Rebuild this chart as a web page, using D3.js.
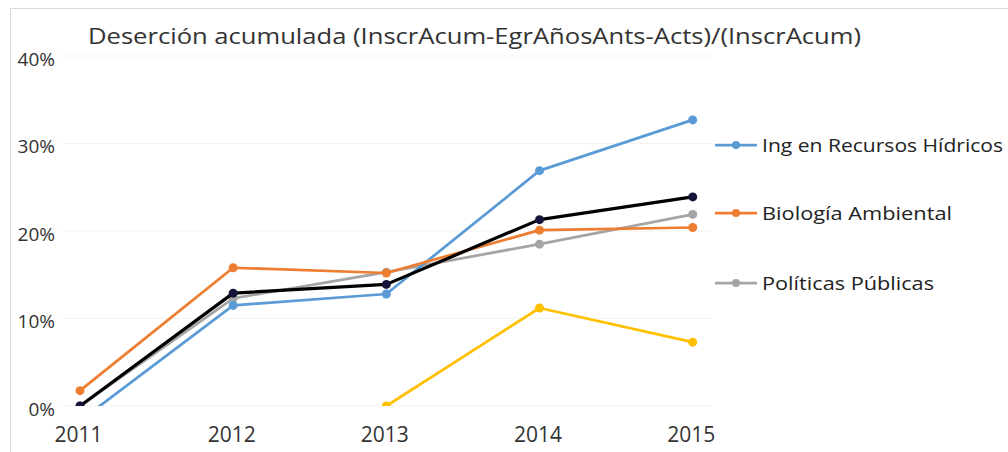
<!DOCTYPE html>
<html><head><meta charset="utf-8">
<script src="https://cdn.jsdelivr.net/npm/d3@7"></script>
<style>html,body{margin:0;padding:0;background:#fff;}svg{display:block;}</style>
</head><body>
<svg id="chart" width="1008" height="452"></svg>
<script>
const years = [2011, 2012, 2013, 2014, 2015];
const yTicks = [0, 0.1, 0.2, 0.3, 0.4];
const title = "Deserción acumulada (InscrAcum-EgrAñosAnts-Acts)/(InscrAcum)";
const seriesNames = ["Ing en Recursos Hídricos", "Biología Ambiental", "Políticas Públicas", "", ""];
const hidricos = [-0.017, 0.115, 0.128, 0.269, 0.327];
const biologia = [0.0175, 0.158, 0.152, 0.201, 0.204];
const politicas = [0.0, 0.123, 0.153, 0.185, 0.219];
const total = [0.0, 0.129, 0.139, 0.213, 0.239];
const otra = [null, null, 0.0, 0.112, 0.073];
const colors = ["#5b9bd5", "#ed7d31", "#a5a5a5", "#000000", "#ffc000"];
const markerColors = ["#5b9bd5", "#ed7d31", "#a5a5a5", "#14143a", "#ffc000"];

const svg = d3.select("#chart");
const font = "'Open Sans', sans-serif";

// frame (top and left edges visible)
svg.append("rect").attr("x", 10.5).attr("y", 8.5).attr("width", 1010).attr("height", 460)
  .attr("fill", "#fff").attr("stroke", "#dcdcdc").attr("stroke-width", 1);

const x = d3.scalePoint().domain(years).range([80, 692.7]);
const y = d3.scaleLinear().domain([0, 0.4]).range([406, 56]);

// gridlines
svg.append("g").selectAll("line").data(yTicks).join("line")
  .attr("x1", 62).attr("x2", 712)
  .attr("y1", d => y(d)).attr("y2", d => y(d))
  .attr("stroke", "#f3f3f3").attr("stroke-width", 1);

// y axis labels
const yAxis = d3.axisLeft(y).tickValues(yTicks).tickFormat(d3.format(".0%")).tickSize(0).tickPadding(0);
const gy = svg.append("g").attr("transform", "translate(55,3)").call(yAxis);
gy.select(".domain").remove();
gy.selectAll("text").attr("font-family", font).attr("font-size", 19).attr("fill", "#333");

// x axis labels
const xAxis = d3.axisBottom(x).tickSize(0).tickPadding(0).tickFormat(d3.format("d"));
const gx = svg.append("g").attr("transform", "translate(-2,427)").call(xAxis);
gx.select(".domain").remove();
gx.selectAll("text").attr("font-family", font).attr("font-size", 21).attr("fill", "#333");

// title
svg.append("text").attr("x", 88).attr("y", 44).text(title)
  .attr("font-family", font).attr("font-size", 22).attr("fill", "#333")
  .attr("textLength", 773).attr("lengthAdjust", "spacingAndGlyphs");

// clip
svg.append("clipPath").attr("id", "clip").append("rect")
  .attr("x", 60).attr("y", y(0.4)).attr("width", 660).attr("height", y(0) - y(0.4));

const data = [hidricos, biologia, politicas, total, otra];
const order = [4, 2, 0, 1, 3];
const line = d3.line().defined(d => d.v !== null).x(d => x(d.year)).y(d => y(d.v));
const plot = svg.append("g").attr("clip-path", "url(#clip)");
order.forEach(i => {
  const pts = years.map((yr, j) => ({year: yr, v: data[i][j]}));
  plot.append("path").datum(pts).attr("d", line).attr("fill", "none")
    .attr("stroke", colors[i]).attr("stroke-width", i === 3 ? 3.2 : 2.75).attr("stroke-linejoin", "round");
  plot.selectAll(null).data(pts.filter(d => d.v !== null)).join("circle")
    .attr("cx", d => x(d.year)).attr("cy", d => y(d.v)).attr("r", 4.5)
    .attr("fill", markerColors[i]);
});

// legend
const legendY = [145, 213, 283];
const legendWidths = [241, 190, 172];
[0, 1, 2].forEach(i => {
  const g = svg.append("g");
  g.append("line").attr("x1", 715).attr("x2", 757).attr("y1", legendY[i]).attr("y2", legendY[i])
    .attr("stroke", colors[i]).attr("stroke-width", 2.75);
  g.append("circle").attr("cx", 736).attr("cy", legendY[i]).attr("r", 4).attr("fill", colors[i]);
  g.append("text").attr("x", 762).attr("y", legendY[i] + 7).text(seriesNames[i])
    .attr("font-family", font).attr("font-size", 19).attr("fill", "#222")
    .attr("textLength", legendWidths[i]).attr("lengthAdjust", "spacingAndGlyphs");
});
</script>
</body></html>
